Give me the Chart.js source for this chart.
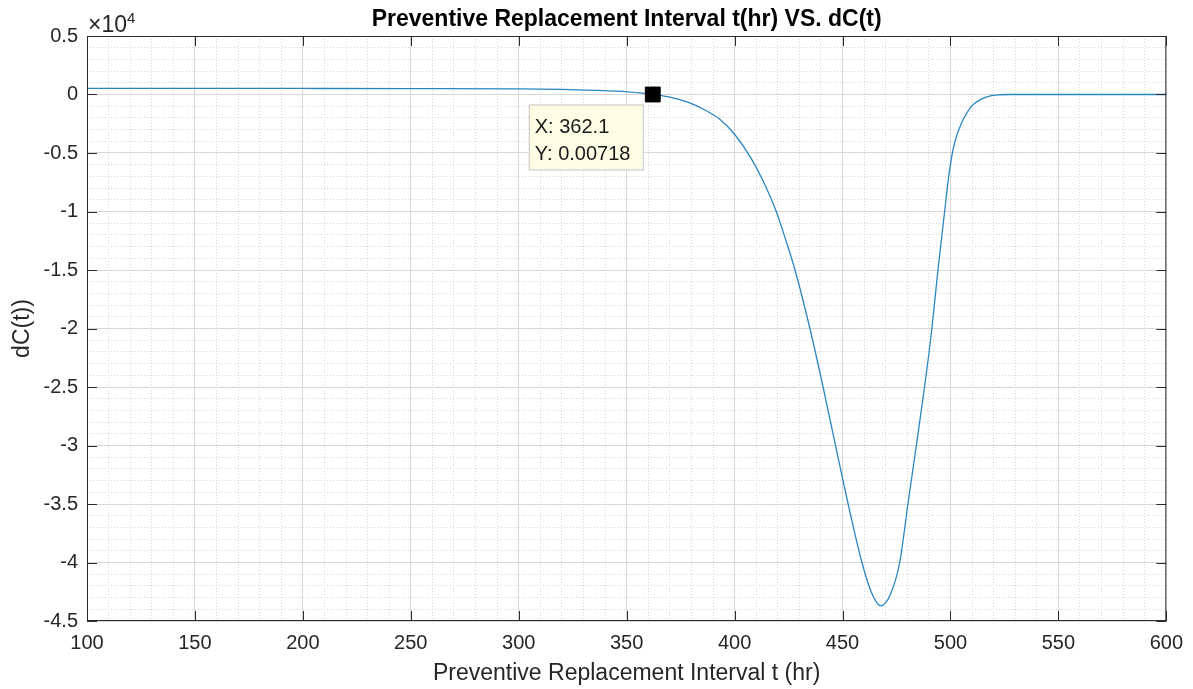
<!DOCTYPE html>
<html lang="en">
<head>
    <meta charset="UTF-8">
    <title>Preventive Replacement Interval t(hr) VS. dC(t)</title>
    <script src="https://cdn.jsdelivr.net/npm/chart.js"></script>
    <style>
        body { margin: 0; padding: 0; background: #fff; }
        .chart-box { width: 1193px; height: 689px; }
    </style>
</head>
<body>
<div class="chart-box">
    <canvas id="dcChart"></canvas>
</div>
<script>
    // values (t in hr, dC in raw units, axis shows x1e4)
    const tValues = [100, 200, 250, 300, 320, 335, 345, 355, 362.1, 370, 378.6, 386, 393.4, 400,
        407.8, 413.5, 419.3, 424, 428, 434.9, 441, 446.4, 452.6, 459, 463.5, 467.7, 472,
        476.5, 480.3, 484.2, 488, 491.4, 494.2, 497.3, 499.2, 501.1, 503, 505, 507.5, 510, 514, 518, 522, 527, 540, 600];
    const dcValues = [520, 515, 505, 475, 430, 360, 290, 160, 0.00718, -230, -680, -1300, -2150, -3400,
        -5500, -7500, -10000, -12600, -15000, -20000, -25000, -29700, -35000, -40000, -42600, -43700, -42800,
        -40000, -35000, -30000, -25000, -20000, -15000, -10000, -7000, -4800, -3450, -2500, -1600, -950, -420, -130, -25, 0, 0, 0];
    const xTicks = [100, 150, 200, 250, 300, 350, 400, 450, 500, 550, 600];
    const yTicks = [5000, 0, -5000, -10000, -15000, -20000, -25000, -30000, -35000, -40000, -45000];
    const tipX = 362.1;
    const tipY = 0.00718;
    const tipLabels = ['X: 362.1', 'Y: 0.00718'];

    const FONT = "'Liberation Sans', Arial, sans-serif";
    const AXIS_COLOR = '#2b2b2b';

    // box, inward ticks, exponent, title, data tip
    const matlabAxes = {
        id: 'matlabAxes',
        afterDatasetsDraw(chart) {
            const ctx = chart.ctx;
            const a = chart.chartArea;
            const xs = chart.scales.x, ys = chart.scales.y;
            ctx.save();
            ctx.strokeStyle = AXIS_COLOR;
            ctx.lineWidth = 1;
            ctx.strokeRect(a.left + 0.5, a.top + 0.5, a.right - a.left - 1, a.bottom - a.top - 1);
            ctx.beginPath();
            xTicks.forEach(v => {
                const px = Math.round(xs.getPixelForValue(v)) + 0.5;
                ctx.moveTo(px, a.bottom); ctx.lineTo(px, a.bottom - 10);
                ctx.moveTo(px, a.top); ctx.lineTo(px, a.top + 10);
            });
            yTicks.forEach(v => {
                const py = Math.round(ys.getPixelForValue(v)) + 0.5;
                ctx.moveTo(a.left, py); ctx.lineTo(a.left + 10, py);
                ctx.moveTo(a.right, py); ctx.lineTo(a.right - 10, py);
            });
            ctx.stroke();

            // x10^4
            ctx.fillStyle = '#262626';
            ctx.textBaseline = 'alphabetic';
            ctx.textAlign = 'left';
            ctx.font = '23px ' + FONT;
            ctx.fillText('\u00d710', a.left + 1, a.top - 4);
            const w = ctx.measureText('\u00d710').width;
            ctx.font = '15px ' + FONT;
            ctx.fillText('4', a.left + 1 + w, a.top - 13);

            // title
            ctx.font = 'bold 23px ' + FONT;
            ctx.textAlign = 'center';
            ctx.fillStyle = '#000';
            ctx.fillText('Preventive Replacement Interval t(hr) VS. dC(t)', (a.left + a.right) / 2, 26);

            // data tip box
            const mx = xs.getPixelForValue(tipX), my = ys.getPixelForValue(tipY);
            const bx = mx - 124, by = my + 10, bw = 114, bh = 65;
            ctx.fillStyle = '#fdfde6';
            ctx.fillRect(bx, by, bw, bh);
            ctx.strokeStyle = '#c4c4c4';
            ctx.strokeRect(bx + 0.5, by + 0.5, bw, bh);
            ctx.fillStyle = '#1a1a1a';
            ctx.textAlign = 'left';
            ctx.font = '20px ' + FONT;
            ctx.fillText(tipLabels[0], bx + 6, by + 29);
            ctx.fillText(tipLabels[1], bx + 6, by + 56);
            ctx.restore();
        }
    };

    const ctx = document.getElementById('dcChart').getContext('2d');
    new Chart(ctx, {
        type: 'scatter',
        data: {
            datasets: [{
                data: tValues.map((t, i) => ({ x: t, y: dcValues[i] })),
                showLine: true,
                borderColor: '#2a86c2',
                borderWidth: 1.3,
                pointRadius: 0,
                cubicInterpolationMode: 'monotone',
                order: 2
            }, {
                data: [{ x: tipX, y: tipY }],
                pointStyle: 'rect',
                pointRadius: 10.5,
                backgroundColor: '#000',
                borderColor: '#000',
                order: 1
            }]
        },
        options: {
            responsive: true,
            maintainAspectRatio: false,
            animation: false,
            layout: { padding: { left: 0, top: 36, right: 24, bottom: 0 } },
            plugins: {
                legend: { display: false },
                tooltip: { enabled: false }
            },
            scales: {
                x: {
                    type: 'linear', min: 100, max: 600, z: -1,
                    ticks: { stepSize: 50, padding: 10, color: '#262626', font: { family: FONT, size: 20 } },
                    grid: { color: '#d9d9d9', drawTicks: false },
                    border: { display: false },
                    title: {
                        display: true, text: 'Preventive Replacement Interval t (hr)',
                        color: '#262626', font: { family: FONT, size: 23 }, padding: { top: 0, bottom: 2 }
                    },
                    afterFit(s) { s.height = 68; }
                },
                x2: {
                    type: 'linear', position: 'bottom', min: 100, max: 600, z: -2,
                    ticks: { stepSize: 10, display: false },
                    grid: { color: '#d6d6d6', drawTicks: false },
                    border: { display: false, dash: [1, 2] },
                    afterFit(s) { s.height = 0; }
                },
                y: {
                    type: 'linear', min: -45000, max: 5000, z: -1,
                    ticks: {
                        stepSize: 5000, padding: 9, color: '#262626', font: { family: FONT, size: 20 },
                        callback: v => String(Math.round(v / 1000) / 10)
                    },
                    grid: { color: '#d9d9d9', drawTicks: false },
                    border: { display: false },
                    title: {
                        display: true, text: 'dC(t))',
                        color: '#262626', font: { family: FONT, size: 23 }, padding: { top: 9, bottom: 0 }
                    },
                    afterFit(s) { s.width = 87; }
                },
                y2: {
                    type: 'linear', position: 'left', min: -45000, max: 5000, z: -2,
                    ticks: { stepSize: 1000, display: false },
                    grid: { color: '#d6d6d6', drawTicks: false },
                    border: { display: false, dash: [1, 2] },
                    afterFit(s) { s.width = 0; }
                }
            }
        },
        plugins: [matlabAxes]
    });
</script>
</body>
</html>
